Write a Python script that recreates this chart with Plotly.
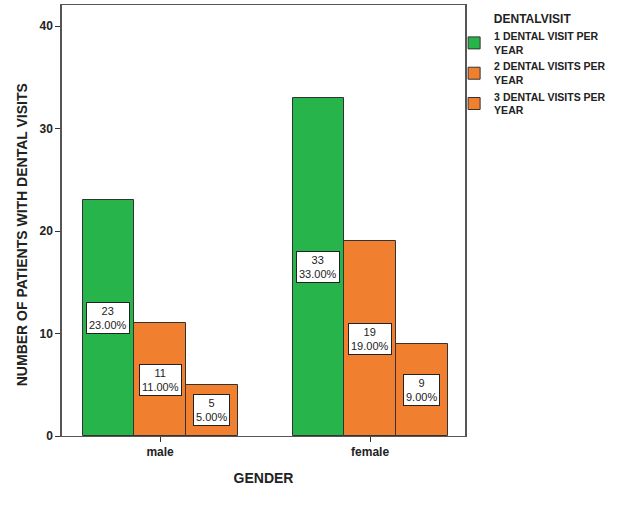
import plotly.graph_objects as go

genders = ["male", "female"]
series_names = ["1 DENTAL VISIT PER<br>YEAR", "2 DENTAL VISITS PER<br>YEAR", "3 DENTAL VISITS PER<br>YEAR"]
counts = [[23, 33], [11, 19], [5, 9]]
percents = [[23.0, 33.0], [11.0, 19.0], [5.0, 9.0]]
colors = ["#27B44A", "#F07F30", "#F07F30"]
y_ticks = [0, 10, 20, 30, 40]

bar_w = 0.246
font = "Liberation Sans, Arial, sans-serif"

fig = go.Figure()
for j, name in enumerate(series_names):
    xs = [i + (j - 1) * bar_w for i in range(len(genders))]
    fig.add_trace(go.Bar(
        x=xs, y=counts[j], width=bar_w, name=name,
        marker=dict(color=colors[j], line=dict(color="#333333", width=1)),
    ))
    for x, c, p in zip(xs, counts[j], percents[j]):
        fig.add_annotation(
            x=x, y=c / 2, xref="x", yref="y",
            text=f"{c}<br>{p:.2f}%", showarrow=False,
            bgcolor="white", bordercolor="#222222", borderwidth=1, borderpad=2,
            font=dict(family=font, size=11, color="#222222"),
        )

# y-axis title (placed slightly below centre, as in the original)
fig.add_annotation(
    xref="paper", yref="paper", x=-0.099, y=0.466,
    xanchor="center", yanchor="middle",
    text="<b>NUMBER OF PATIENTS WITH DENTAL VISITS</b>", textangle=-90,
    showarrow=False, font=dict(family=font, size=14, color="#222222"),
)

fig.update_layout(
    width=624, height=525,
    margin=dict(l=62, r=159, t=5, b=89, autoexpand=False),
    plot_bgcolor="white", paper_bgcolor="white",
    bargap=0, barmode="overlay",
    font=dict(family=font, color="#222222"),
    legend=dict(
        x=0.973, y=0.995, xanchor="left", yanchor="top",
        bgcolor="rgba(0,0,0,0)",
        title=dict(text="<b>DENTALVISIT</b>", side="top center", font=dict(size=12)),
        font=dict(size=10.5, weight="bold"),
        tracegroupgap=0, itemwidth=30,
    ),
    xaxis=dict(
        range=[-0.467, 1.452],
        tickvals=list(range(len(genders))), ticktext=genders,
        ticks="outside", ticklen=5, tickcolor="#333",
        tickfont=dict(size=12, weight="bold"),
        showline=True, linecolor="#555", linewidth=1, mirror=True,
        showgrid=False, zeroline=False,
        title=dict(text="<b>GENDER</b>", font=dict(size=14), standoff=14),
    ),
    yaxis=dict(
        range=[0, 42.05],
        tickvals=y_ticks,
        ticks="outside", ticklen=5, tickcolor="#333",
        tickfont=dict(size=12, weight="bold"),
        showline=True, linecolor="#555", linewidth=1.5, mirror=True,
        showgrid=False, zeroline=False,
    ),
)

fig.write_html("out.html", config={"displayModeBar": False},
               post_script="document.body.style.margin='0';")
